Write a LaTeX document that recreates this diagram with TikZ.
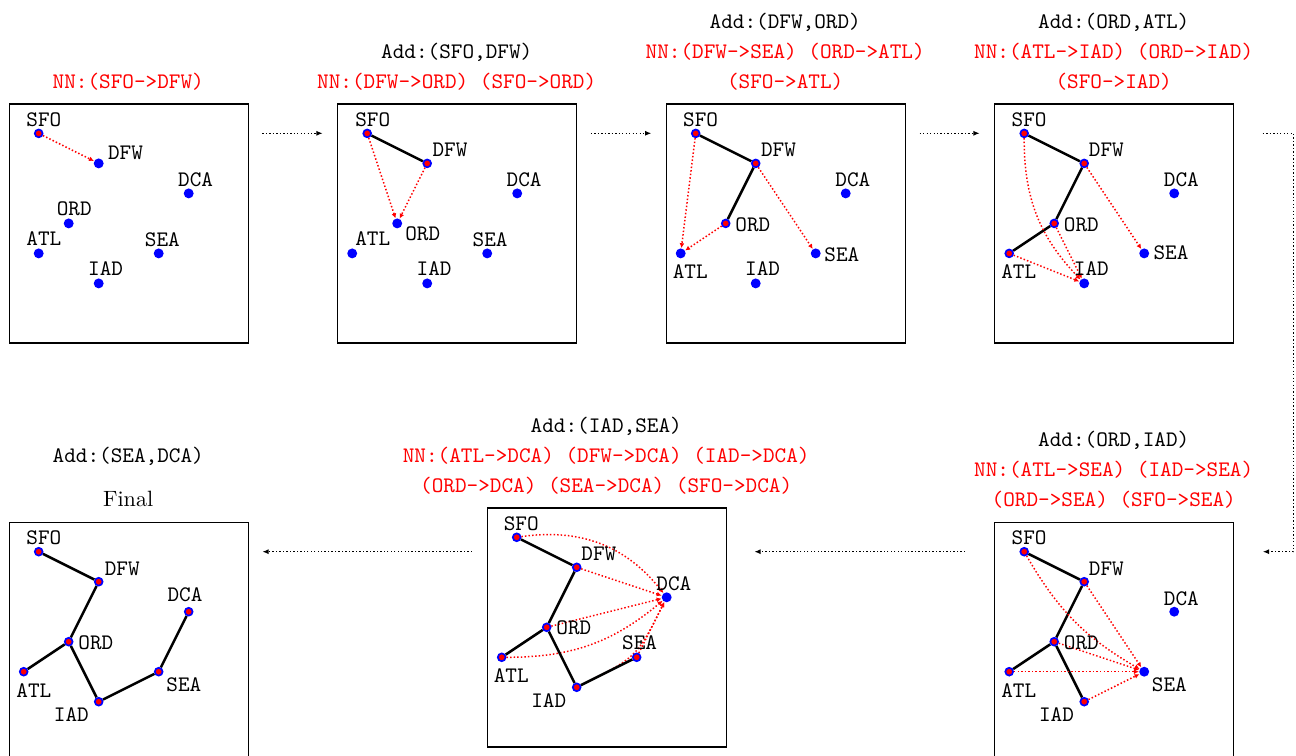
\documentclass[tikz,border=0pt]{standalone}
\usetikzlibrary{arrows.meta}
\pgfdeclarelayer{bg}
\pgfsetlayers{bg,main}
\newcommand\mytt{\fontsize{10.5}{12.6}\selectfont\ttfamily}
\newcommand\myrm{\fontsize{10.5}{12.6}\selectfont\rmfamily}
\tikzset{
  dot/.style={circle, fill=blue, inner sep=0pt, minimum size=4.7pt},
  tree/.style={circle, fill=red, draw=blue, line width=0.8pt, inner sep=0pt, minimum size=3.7pt},
  lbl/.style={anchor=base west, inner sep=0pt, font=\mytt},
  ttl/.style={anchor=base, inner sep=0pt, font=\mytt},
  nnt/.style={ttl, text=red},
  nn/.style={red, densely dotted, line width=0.7pt, -{Latex[length=2.3pt,width=2.3pt]}},
  te/.style={black, line width=1.2pt},
  pbox/.style={draw, line width=0.6pt, minimum width=3.9835cm, minimum height=3.9835cm, inner sep=0pt, anchor=north west},
  conn/.style={black, densely dotted, line width=0.65pt, -{Latex[length=3pt,width=2.4pt]}},
}
\newcommand\labs[2]{%
  \foreach \n/\dx/\dy in {#2}
    \node[lbl] at ([xshift=\dx*0.47244pt, yshift=\dy*0.47244pt]#1\n.center) {\n};}
\begin{document}
\begin{tikzpicture}[x=0.5cm, y=-0.5cm]
\clip (0,0) rectangle (43.2,25.2);

% ---------- Panel 1 ----------
\begin{scope}[shift={(0.29,3.447)}]
  \node[pbox] (B1) at (0,0) {};
  \foreach \n/\x/\y in {SFO/1/1} \node[tree] (a\n) at (\x,\y) {};
  \foreach \n/\x/\y in {DFW/3/2,DCA/6/3,ORD/2/4,ATL/1/5,SEA/5/5,IAD/3/6} \node[dot] (a\n) at (\x,\y) {};
  \labs{a}{SFO/-12.7/6.7,DFW/9/4.3,DCA/-11/6.7,ORD/-12.3/8.3,ATL/-12.7/7.7,SEA/-14.3/6.7,IAD/-11/7.7}
  \begin{pgfonlayer}{bg}
    \draw[nn] (aSFO) -- (aDFW);
  \end{pgfonlayer}
  \node[nnt] (t1n) at (3.983,-0.5) {NN:(SFO->DFW)};
\end{scope}

% ---------- Panel 2 ----------
\begin{scope}[shift={(11.24,3.447)}]
  \node[pbox] (B2) at (0,0) {};
  \foreach \n/\x/\y in {SFO/1/1,DFW/3/2} \node[tree] (b\n) at (\x,\y) {};
  \foreach \n/\x/\y in {DCA/6/3,ORD/2/4,ATL/0.5/5,SEA/5/5,IAD/3/6} \node[dot] (b\n) at (\x,\y) {};
  \labs{b}{SFO/-12.3/6.7,DFW/5/6.7,DCA/-11/6.7,ORD/7.7/-16.7,ATL/2.7/7.7,SEA/-15/6.7,IAD/-11/7.7}
  \begin{pgfonlayer}{bg}
    \draw[te] (bSFO) -- (bDFW);
    \draw[nn] (bDFW) -- (bORD);
    \draw[nn] (bSFO) -- (bORD);
  \end{pgfonlayer}
  \node[ttl] (t2a) at (3.983,-1.5) {Add:(SFO,DFW)};
  \node[nnt] (t2n) at (3.983,-0.5) {NN:(DFW->ORD) (SFO->ORD)};
\end{scope}

% ---------- Panel 3 ----------
\begin{scope}[shift={(22.19,3.447)}]
  \node[pbox] (B3) at (0,0) {};
  \foreach \n/\x/\y in {SFO/1/1,DFW/3/2,ORD/2/4} \node[tree] (c\n) at (\x,\y) {};
  \foreach \n/\x/\y in {DCA/6/3,ATL/0.5/5,SEA/5/5,IAD/3/6} \node[dot] (c\n) at (\x,\y) {};
  \labs{c}{SFO/-13/7.3,DFW/5/6.7,DCA/-10.7/6.7,ORD/9.3/-8.3,ATL/-8.3/-25,SEA/8.3/-8,IAD/-11/7.7}
  \begin{pgfonlayer}{bg}
    \draw[te] (cSFO) -- (cDFW);
    \draw[te] (cDFW) -- (cORD);
    \draw[nn] (cDFW) -- (cSEA);
    \draw[nn] (cORD) -- (cATL);
    \draw[nn] (cSFO) -- (cATL);
  \end{pgfonlayer}
  \node[ttl] (t3a) at (3.983,-2.5) {Add:(DFW,ORD)};
  \node[nnt] (t3n) at (3.983,-1.5) {NN:(DFW->SEA) (ORD->ATL)};
  \node[nnt] (t3m) at (3.983,-0.5) {(SFO->ATL)};
\end{scope}

% ---------- Panel 4 ----------
\begin{scope}[shift={(33.14,3.447)}]
  \node[pbox] (B4) at (0,0) {};
  \foreach \n/\x/\y in {SFO/1/1,DFW/3/2,ORD/2/4,ATL/0.5/5} \node[tree] (d\n) at (\x,\y) {};
  \foreach \n/\x/\y in {DCA/6/3,SEA/5/5,IAD/3/6} \node[dot] (d\n) at (\x,\y) {};
  \labs{d}{SFO/-13/7.3,DFW/4.3/6.7,DCA/-10.7/6.7,ORD/9.3/-8.3,ATL/-8.3/-25,SEA/9/-5.7,IAD/-10.7/8.3}
  \begin{pgfonlayer}{bg}
    \draw[te] (dSFO) -- (dDFW);
    \draw[te] (dDFW) -- (dORD);
    \draw[te] (dORD) -- (dATL);
    \draw[nn] (dATL) -- (dIAD);
    \draw[nn] (dORD) -- (dIAD);
    \draw[nn] (dSFO) to[bend right=22] (dIAD);
    \draw[nn] (dDFW) -- (dSEA);
  \end{pgfonlayer}
  \node[ttl] (t4a) at (3.983,-2.5) {Add:(ORD,ATL)};
  \node[nnt] (t4n) at (3.983,-1.5) {NN:(ATL->IAD) (ORD->IAD)};
  \node[nnt] (t4m) at (3.983,-0.5) {(SFO->IAD)};
\end{scope}

% ---------- Panel 5 ----------
\begin{scope}[shift={(33.14,17.39)}]
  \node[pbox] (B5) at (0,0) {};
  \foreach \n/\x/\y in {SFO/1/1,DFW/3/2,ORD/2/4,ATL/0.5/5,IAD/3/6} \node[tree] (e\n) at (\x,\y) {};
  \foreach \n/\x/\y in {DCA/6/3,SEA/5/5} \node[dot] (e\n) at (\x,\y) {};
  \labs{e}{SFO/-13/7.3,DFW/4.3/6.7,DCA/-10.7/6.7,ORD/9.3/-8.3,ATL/-8.3/-25.7,SEA/7.3/-19.7,IAD/-45.7/-19.7}
  \begin{pgfonlayer}{bg}
    \draw[te] (eSFO) -- (eDFW);
    \draw[te] (eDFW) -- (eORD);
    \draw[te] (eORD) -- (eATL);
    \draw[te] (eORD) -- (eIAD);
    \draw[nn] (eATL) -- (eSEA);
    \draw[nn] (eIAD) -- (eSEA);
    \draw[nn] (eORD) -- (eSEA);
    \draw[nn] (eSFO) to[bend right=15] (eSEA);
    \draw[nn] (eDFW) -- (eSEA);
  \end{pgfonlayer}
  \node[ttl] (t5a) at (3.983,-2.5) {Add:(ORD,IAD)};
  \node[nnt] (t5n) at (3.983,-1.5) {NN:(ATL->SEA) (IAD->SEA)};
  \node[nnt] (t5m) at (3.983,-0.5) {(ORD->SEA) (SFO->SEA)};
\end{scope}

% ---------- Panel 6 ----------
\begin{scope}[shift={(16.223,16.91)}]
  \node[pbox] (B6) at (0,0) {};
  \foreach \n/\x/\y in {SFO/1/1,DFW/3/2,ORD/2/4,ATL/0.5/5,SEA/5/5,IAD/3/6} \node[tree] (f\n) at (\x,\y) {};
  \foreach \n/\x/\y in {DCA/6/3} \node[dot] (f\n) at (\x,\y) {};
  \labs{f}{SFO/-13.3/7.3,DFW/4.3/7.3,DCA/-10.7/7.3,ORD/9.3/-7.3,ATL/-8.3/-25.7,SEA/-15/7.7,IAD/-46/-20}
  \begin{pgfonlayer}{bg}
    \draw[nn] (fATL) to[bend right=20] (fDCA);
    \draw[nn] (fDFW) -- (fDCA);
    \draw[nn] (fIAD) .. controls (fSEA) .. (fDCA);
    \draw[nn] (fORD) -- (fDCA);
    \draw[nn] (fSEA) -- (fDCA);
    \draw[nn] (fSFO) to[bend left=30] (fDCA);
    \draw[te] (fSFO) -- (fDFW);
    \draw[te] (fDFW) -- (fORD);
    \draw[te] (fORD) -- (fATL);
    \draw[te] (fORD) -- (fIAD);
    \draw[te] (fIAD) -- (fSEA);
  \end{pgfonlayer}
  \node[ttl] (t6a) at (3.983,-2.5) {Add:(IAD,SEA)};
  \node[nnt] (t6n) at (3.983,-1.5) {NN:(ATL->DCA) (DFW->DCA) (IAD->DCA)};
  \node[nnt] (t6m) at (3.983,-0.5) {(ORD->DCA) (SEA->DCA) (SFO->DCA)};
\end{scope}

% ---------- Panel 7 ----------
\begin{scope}[shift={(0.29,17.39)}]
  \node[pbox] (B7) at (0,0) {};
  \foreach \n/\x/\y in {SFO/1/1,DFW/3/2,DCA/6/3,ORD/2/4,ATL/0.5/5,SEA/5/5,IAD/3/6} \node[tree] (g\n) at (\x,\y) {};
  \labs{g}{SFO/-12.7/7.3,DFW/5.7/6.7,DCA/-21.7/10,ORD/9.3/-8,ATL/-7.7/-26,SEA/7.3/-20,IAD/-45.3/-20}
  \begin{pgfonlayer}{bg}
    \draw[te] (gSFO) -- (gDFW);
    \draw[te] (gDFW) -- (gORD);
    \draw[te] (gORD) -- (gATL);
    \draw[te] (gORD) -- (gIAD);
    \draw[te] (gIAD) -- (gSEA);
    \draw[te] (gSEA) -- (gDCA);
  \end{pgfonlayer}
  \node[ttl] (t7a) at (3.983,-1.967) {Add:(SEA,DCA)};
  \node[ttl, font=\myrm] (t7f) at (3.983,-0.5) {Final};
\end{scope}

% ---------- connectors between panels ----------
\coordinate (k1s) at (8.743,4.443);  \coordinate (k1e) at (10.757,4.443);
\coordinate (k2s) at (19.693,4.443); \coordinate (k2e) at (21.713,4.443);
\coordinate (k3s) at (30.653,4.443); \coordinate (k3e) at (32.657,4.443);
\coordinate (k4s) at (42.09,4.443);  \coordinate (k4a) at (43.11,4.443);
\coordinate (k4b) at (43.11,18.39);  \coordinate (k4e) at (42.09,18.39);
\coordinate (k5s) at (32.167,18.39); \coordinate (k5e) at (25.143,18.39);
\coordinate (k6s) at (15.733,18.39); \coordinate (k6e) at (8.743,18.39);
\draw[conn] (k1s) -- (k1e);
\draw[conn] (k2s) -- (k2e);
\draw[conn] (k3s) -- (k3e);
\draw[conn] (k4s) -- (k4a) -- (k4b) -- (k4e);
\draw[conn] (k5s) -- (k5e);
\draw[conn] (k6s) -- (k6e);
\end{tikzpicture}
\end{document}
